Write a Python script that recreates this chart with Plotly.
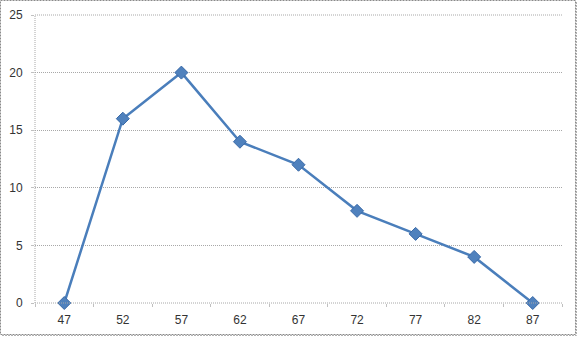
import plotly.graph_objects as go

categories = ["47", "52", "57", "62", "67", "72", "77", "82", "87"]
values = [0, 16, 20, 14, 12, 8, 6, 4, 0]
y_ticks = [0, 5, 10, 15, 20, 25]

W, H = 578, 337
L, R, T, B = 35, 16, 15, 34
pw, ph = W - L - R, H - T - B

def px(x):
    return (x - L) / pw

def py(y):
    return (H - B - y) / ph

fig = go.Figure()
fig.add_trace(go.Scatter(
    x=categories, y=values, mode="lines+markers",
    line=dict(color="#4a7ebb", width=2.5),
    marker=dict(symbol="diamond", size=10, color="#4f81bd",
                line=dict(color="#3a6aa8", width=1)),
    cliponaxis=False,
))

fig.update_layout(
    width=W, height=H,
    margin=dict(l=L, r=R, t=T, b=B, autoexpand=False),
    paper_bgcolor="white", plot_bgcolor="white",
    showlegend=False,
    font=dict(family="Liberation Sans", size=12, color="#333333"),
    xaxis=dict(type="category", range=[-0.5, 8.5], showgrid=False,
               ticks="outside", tickson="boundaries", ticklen=3,
               tickcolor="#c0c0c0", showline=False, zeroline=False,
               ticklabelstandoff=8, automargin=False),
    yaxis=dict(range=[0, 25], tickvals=y_ticks, showgrid=True,
               gridcolor="#a8a8a8", griddash="1px,1px", gridwidth=1,
               zeroline=False, showline=False, ticks="outside",
               ticklen=3, tickcolor="#c0c0c0", ticklabelstandoff=6,
               automargin=False),
)

grid = dict(color="#a8a8a8", width=1, dash="1px,1px")
# y axis line and top/bottom gridlines (dotted)
fig.add_shape(type="line", xref="paper", yref="paper", x0=0, x1=0, y0=0, y1=1, line=grid)
fig.add_shape(type="line", xref="paper", yref="paper", x0=0, x1=1, y0=1, y1=1, line=grid)
fig.add_shape(type="line", xref="paper", yref="paper", x0=0, x1=1, y0=0, y1=0, line=grid)
# outer chart border
border = dict(color="#8a8a8a", width=1, dash="2px,1px")
fig.add_shape(type="rect", xref="paper", yref="paper",
              x0=px(0.5), x1=px(575.5), y0=py(0.5), y1=py(334.5), line=border)
shadow = dict(color="#b0b0b0", width=1, dash="2px,1px")
fig.add_shape(type="line", xref="paper", yref="paper",
              x0=px(576.5), x1=px(576.5), y0=py(2), y1=py(335.5), line=shadow)
fig.add_shape(type="line", xref="paper", yref="paper",
              x0=px(2), x1=px(576.5), y0=py(335.5), y1=py(335.5), line=shadow)

fig.write_html("out.html")
